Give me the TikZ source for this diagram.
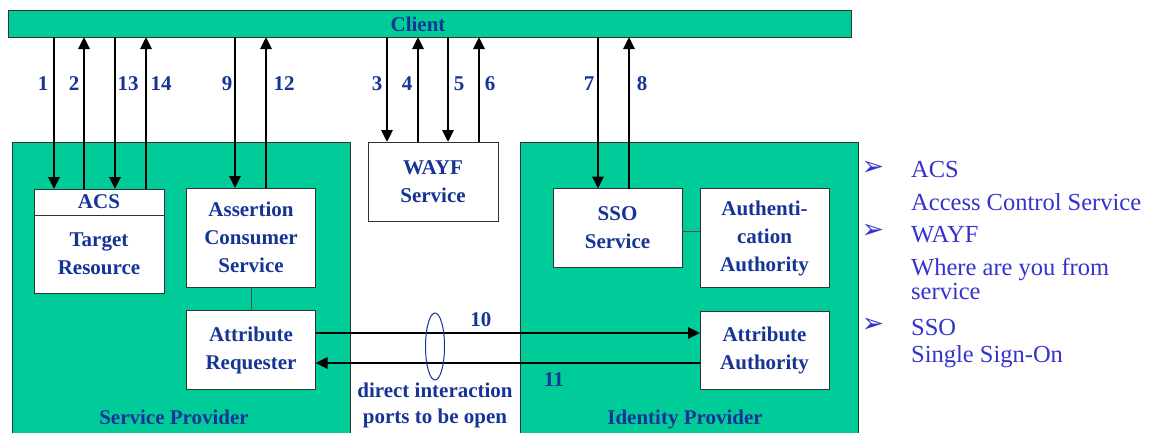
\documentclass[tikz,border=0pt]{standalone}
\usepackage{fontspec}
\setmainfont{Liberation Serif}
\newfontfamily\symfont{DejaVu Sans}
\usetikzlibrary{arrows.meta,positioning,shapes.geometric}
\definecolor{idgreen}{RGB}{0,204,153}
\definecolor{lblblue}{RGB}{22,52,150}
\definecolor{keyblue}{RGB}{51,51,204}
\tikzset{
  zone/.style={draw=black!80,line width=1pt,fill=idgreen,inner sep=0pt,outer sep=0pt},
  box/.style={draw=black!80,line width=1pt,fill=white,inner sep=0pt,outer sep=0pt,
    align=center,text=lblblue,font=\bfseries\fontsize{21}{28}\selectfont},
  lbl/.style={text=lblblue,font=\bfseries\fontsize{21}{26}\selectfont,inner sep=0pt,align=center},
  flow/.style={line width=2.8pt,-{Triangle[length=12pt,width=11pt]}},
  link/.style={line width=1pt,draw=black!70},
  key/.style={text=keyblue,font=\fontsize{24.5}{30}\selectfont,anchor=base west,inner sep=0pt},
  keymark/.style={text=keyblue,font=\symfont\fontsize{27}{30}\selectfont,inner sep=0pt}
}
\begin{document}
\begin{tikzpicture}[x=1pt,y=-1pt]
\useasboundingbox (0,0) rectangle (1156,432);
\clip (0,0) rectangle (1156,432);
% client bar
\node[zone,minimum width=843pt,minimum height=27pt] (client) at (429.5,23.5) {};
\node[lbl] (clientname) at (418,24) {Client};
% providers
\node[zone,minimum width=338pt,minimum height=300pt] (sp) at (181,292) {};
\node[zone,minimum width=338pt,minimum height=300pt] (idp) at (689,292) {};
\node[lbl,anchor=base] (spname) at (174,424) {Service Provider};
\node[lbl,anchor=base] (idpname) at (685,424) {Identity Provider};
\node[box,minimum width=130pt,minimum height=79pt] (wayf) at (433,181.5) {WAYF\\Service};
% service provider parts
\node[box,minimum width=130pt,minimum height=26pt] (acshd) at (99,202) {ACS};
\node[box,minimum width=130pt,minimum height=78pt,below=0pt of acshd] (target) {Target\\Resource};
\node[box,minimum width=129pt,minimum height=99pt] (acsvc) at (251,237.5) {Assertion\\Consumer\\Service};
\node[box,minimum width=129pt,minimum height=79pt] (areq) at (251,350) {Attribute\\Requester};
% identity provider parts
\node[box,minimum width=129pt,minimum height=79pt] (sso) at (617.5,228) {SSO\\Service};
\node[box,minimum width=129pt,minimum height=99pt] (authn) at (764.5,238) {Authenti-\\cation\\Authority};
\node[box,minimum width=129pt,minimum height=78pt] (aauth) at (764.5,350) {Attribute\\Authority};
\draw[link] (acsvc.south) -- (areq.north);
\draw[link] ([yshift=-3pt]sso.east) -- ([yshift=-3pt]sso.east -| authn.west);
% browser messages
\foreach \xx/\tgt in {54/acshd,115/acshd,235/acsvc,387/wayf,448/wayf,598/sso}
  \draw[flow] (\xx,0 |- client.south) -- (\xx,0 |- \tgt.north);
\foreach \xx/\tgt in {84/acshd,146/acshd,266/acsvc,418/wayf,479/wayf,629/sso}
  \draw[flow] (\xx,0 |- \tgt.north) -- (\xx,0 |- client.south);
\foreach \lx/\num in {43/1,74/2,128/13,161/14,227/9,284/12,377/3,407/4,459/5,490/6,589/7,642/8}
  \node[lbl] (n\num) at (\lx,84) {\num};
% back channel
\draw[flow] ([yshift=17pt]areq.east) -- ([yshift=17pt]areq.east -| aauth.west)
  node[lbl,pos=.43,above=5pt] (n10) {10};
\draw[flow] ([yshift=-13pt]aauth.west) -- ([yshift=-13pt]aauth.west -| areq.east)
  node[lbl,pos=.38,below=8pt] (n11) {11};
\node[draw=lblblue,line width=1pt,ellipse,minimum width=19pt,minimum height=67pt,inner sep=0pt] (ports) at (435,346.5) {};
\node[lbl] (portsnote) at (435,405) {direct interaction\\ports to be open};
% key
\node[keymark] (m1) at (873,168) {➢};
\node[key] (k1) at (911,177) {ACS};
\node[key] (k2) at (911,210) {Access Control Service};
\node[keymark] (m2) at (873,231) {➢};
\node[key] (k3) at (911,242) {WAYF};
\node[key] (k4) at (911,275) {Where are you from};
\node[key] (k5) at (911,299) {service};
\node[keymark] (m3) at (873,325) {➢};
\node[key] (k6) at (911,335) {SSO};
\node[key] (k7) at (911,362) {Single Sign-On};
\end{tikzpicture}
\end{document}
